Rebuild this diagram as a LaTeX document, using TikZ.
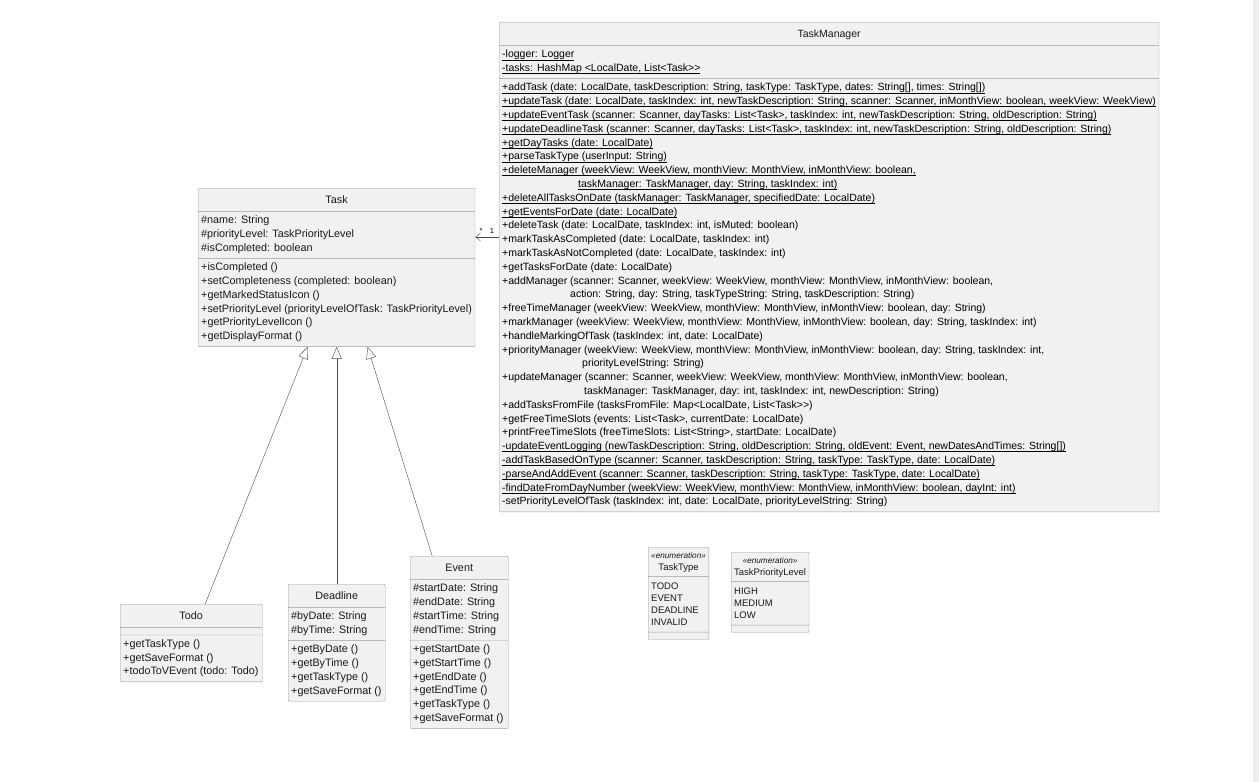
\documentclass[tikz,border=0pt]{standalone}
\usepackage{fontspec}
\setmainfont{Liberation Sans}
\usetikzlibrary{shapes.multipart,arrows.meta,calc}

\definecolor{umlfill}{HTML}{F1F1F1}
\definecolor{umlborder}{HTML}{9C9C9C}
\definecolor{umlline}{HTML}{474747}
\definecolor{stripgray}{HTML}{EEEEEE}

\newsavebox\statbox
\newcommand{\rows}[1]{\begin{tabular}{@{}l@{}}#1\end{tabular}}
\newcommand{\crows}[1]{\begin{tabular}{@{}c@{}}#1\end{tabular}}
\newcommand{\head}[1]{\rule[-5.5pt]{0pt}{18pt}#1}
\newcommand{\gap}{\rule{0pt}{2pt}}
\newcommand{\stat}[1]{\sbox\statbox{#1}\rlap{\usebox\statbox}\rule[-2.2pt]{\wd\statbox}{0.5pt}}
\newcommand{\stereo}{{\fontsize{8.2}{9}\itshape «enumeration»}}

\tikzset{
  umlclass/.style={draw=umlborder, fill=umlfill, rectangle split, rectangle split parts=3,
    rectangle split part align={center,left,left}, inner xsep=3pt, inner ysep=2.5pt,
    anchor=north west, rounded corners=1pt, text=black!90,
    font=\fontsize{10.8}{13.8}\selectfont},
  umlenum/.style={umlclass, font=\fontsize{9.5}{12}\selectfont},
  inherit/.style={draw=umlline, -{Triangle[open,length=12pt,width=10pt]}},
  assoc/.style={draw=umlline, -{Straight Barb[length=5pt,width=8pt]}},
  mult/.style={font=\fontsize{7.5}{8}\selectfont, inner sep=1pt}
}

\begin{document}
\begin{tikzpicture}[x=1pt, y=-1pt]
\useasboundingbox (0,0) rectangle (1259,782);
\fill[stripgray] (1253,0) rectangle (1259,782);

\node[umlclass, minimum width=659, font=\fontsize{10.5}{13.8}\selectfont] (mgr) at (499,22) {\head{TaskManager}
\nodepart{two}\rows{\stat{-logger: Logger}\\
\stat{-tasks: HashMap <LocalDate, List<Task>{}>}}
\nodepart{three}\rows{%
\stat{+addTask (date: LocalDate, taskDescription: String, taskType: TaskType, dates: String[], times: String[])}\\
\stat{+updateTask (date: LocalDate, taskIndex: int, newTaskDescription: String, scanner: Scanner, inMonthView: boolean, weekView: WeekView)}\\
\stat{+updateEventTask (scanner: Scanner, dayTasks: List<Task>, taskIndex: int, newTaskDescription: String, oldDescription: String)}\\
\stat{+updateDeadlineTask (scanner: Scanner, dayTasks: List<Task>, taskIndex: int, newTaskDescription: String, oldDescription: String)}\\
\stat{+getDayTasks (date: LocalDate)}\\
\stat{+parseTaskType (userInput: String)}\\
\stat{+deleteManager (weekView: WeekView, monthView: MonthView, inMonthView: boolean,}\\
\hspace*{76pt}\stat{taskManager: TaskManager, day: String, taskIndex: int)}\\
\stat{+deleteAllTasksOnDate (taskManager: TaskManager, specifiedDate: LocalDate)}\\
\stat{+getEventsForDate (date: LocalDate)}\\
+deleteTask (date: LocalDate, taskIndex: int, isMuted: boolean)\\
+markTaskAsCompleted (date: LocalDate, taskIndex: int)\\
+markTaskAsNotCompleted (date: LocalDate, taskIndex: int)\\
+getTasksForDate (date: LocalDate)\\
+addManager (scanner: Scanner, weekView: WeekView, monthView: MonthView, inMonthView: boolean,\\
\hspace*{68pt}action: String, day: String, taskTypeString: String, taskDescription: String)\\
+freeTimeManager (weekView: WeekView, monthView: MonthView, inMonthView: boolean, day: String)\\
+markManager (weekView: WeekView, monthView: MonthView, inMonthView: boolean, day: String, taskIndex: int)\\
+handleMarkingOfTask (taskIndex: int, date: LocalDate)\\
+priorityManager (weekView: WeekView, monthView: MonthView, inMonthView: boolean, day: String, taskIndex: int,\\
\hspace*{80pt}priorityLevelString: String)\\
+updateManager (scanner: Scanner, weekView: WeekView, monthView: MonthView, inMonthView: boolean,\\
\hspace*{82pt}taskManager: TaskManager, day: int, taskIndex: int, newDescription: String)\\
+addTasksFromFile (tasksFromFile: Map<LocalDate, List<Task>{}>)\\
+getFreeTimeSlots (events: List<Task>, currentDate: LocalDate)\\
+printFreeTimeSlots (freeTimeSlots: List<String>, startDate: LocalDate)\\
\stat{-updateEventLogging (newTaskDescription: String, oldDescription: String, oldEvent: Event, newDatesAndTimes: String[])}\\
\stat{-addTaskBasedOnType (scanner: Scanner, taskDescription: String, taskType: TaskType, date: LocalDate)}\\
\stat{-parseAndAddEvent (scanner: Scanner, taskDescription: String, taskType: TaskType, date: LocalDate)}\\
\stat{-findDateFromDayNumber (weekView: WeekView, monthView: MonthView, inMonthView: boolean, dayInt: int)}\\
-setPriorityLevelOfTask (taskIndex: int, date: LocalDate, priorityLevelString: String)}};

\node[umlclass, minimum width=275] (task) at (198,188) {\head{Task}
\nodepart{two}\rows{\#name: String\\ \#priorityLevel: TaskPriorityLevel\\ \#isCompleted: boolean}
\nodepart{three}\rows{+isCompleted ()\\ +setCompleteness (completed: boolean)\\ +getMarkedStatusIcon ()\\
+setPriorityLevel (priorityLevelOfTask: TaskPriorityLevel)\\ +getPriorityLevelIcon ()\\ +getDisplayFormat ()}};

\node[umlclass, minimum width=142] (todo) at (120,604) {\head{Todo}
\nodepart{two}\gap
\nodepart{three}\rows{+getTaskType ()\\ +getSaveFormat ()\\ +todoToVEvent (todo: Todo)}};

\node[umlclass, minimum width=97] (deadline) at (288,584) {\head{Deadline}
\nodepart{two}\rows{\#byDate: String\\ \#byTime: String}
\nodepart{three}\rows{+getByDate ()\\ +getByTime ()\\ +getTaskType ()\\ +getSaveFormat ()}};

\node[umlclass, minimum width=98] (event) at (410,556) {\head{Event}
\nodepart{two}\rows{\#startDate: String\\ \#endDate: String\\ \#startTime: String\\ \#endTime: String}
\nodepart{three}\rows{+getStartDate ()\\ +getStartTime ()\\ +getEndDate ()\\ +getEndTime ()\\ +getTaskType ()\\ +getSaveFormat ()}};

\node[umlenum, minimum width=60] (tasktype) at (648,547) {\crows{\stereo\\ TaskType}
\nodepart{two}\rows{\rule{0pt}{10.5pt}TODO\\ EVENT\\ DEADLINE\\ INVALID}
\nodepart{three}\gap};

\node[umlenum, minimum width=77] (prio) at (731,552) {\crows{\stereo\\ TaskPriorityLevel}
\nodepart{two}\rows{\rule{0pt}{10.5pt}HIGH\\ MEDIUM\\ LOW}
\nodepart{three}\gap};

\draw[inherit] ($(todo.north)+(14,0)$) -- ($(task.south)+(-29,0)$);
\draw[inherit] (deadline.north) -- (deadline.north |- task.south);
\draw[inherit] ($(event.north)+(-27,0)$) -- ($(task.south)+(31,0)$);

\coordinate (link) at (0,237);
\draw[assoc] (mgr.west |- link) -- node[mult, pos=0.3, above=2pt] (one) {1}
  node[mult, pos=0.75, above=2pt] (many) {*} (task.east |- link);
\end{tikzpicture}
\end{document}
